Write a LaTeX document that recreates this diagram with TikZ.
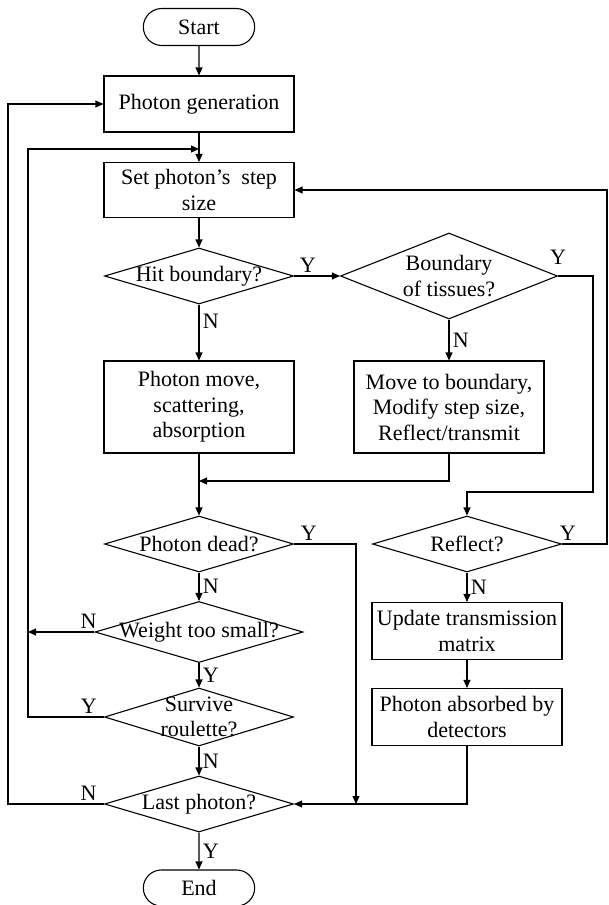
\documentclass[tikz,border=0pt]{standalone}
\usepackage{fontspec}
\setmainfont{Liberation Serif}
\usetikzlibrary{positioning, arrows.meta, shapes.geometric, shapes.misc}

\begin{document}
\begin{tikzpicture}[
		x=1pt, y=-1pt,
		>={Triangle[length=8pt, width=7pt]},
		font=\fontsize{22}{25.5}\selectfont,
		line width=1.1pt,
		box/.style={draw, rectangle, minimum width=190pt, align=center, inner sep=1pt},
		dec/.style={draw, diamond, minimum width=189pt, minimum height=56pt, inner sep=0pt},
		term/.style={draw, rounded rectangle, minimum width=118pt, minimum height=37pt}
	]

	\useasboundingbox (0,0) rectangle (609,905);

	\node[term] (start) at (199,27) {Start};
	\node[box, minimum height=56pt] (gen) at (199,104) {Photon generation};
	\node[box, minimum height=55pt] (set) at (199,190) {Set photon’s \ step\\size};
	\node[dec, label=center:{Hit boundary?}] (hit) at (199,276) {};
	\node[dec, minimum width=217pt, minimum height=86pt, label={[align=center]center:Boundary\\of tissues?}] (bnd) at (449,276) {};
	\node[box, minimum height=92pt] (move) at (199,407) {Photon move,\\scattering,\\absorption};
	\node[box, minimum height=92pt] (mvb) at (449,407) {Move to boundary,\\Modify step size,\\Reflect/transmit};
	\node[dec, label=center:{Photon dead?}] (dead) at (199,544) {};
	\node[dec, label=center:{Reflect?}] (refl) at (467,544) {};
	\node[dec, minimum width=208pt, minimum height=61pt, label=center:{Weight too small?}] (wt) at (199,632) {};
	\node[box, minimum height=57pt] (upd) at (467,631) {Update transmission\\matrix};
	\node[dec, minimum height=58pt, label={[align=center]center:Survive\\roulette?}] (surv) at (199,717) {};
	\node[box, minimum height=57pt] (abs) at (467,717) {Photon absorbed by\\detectors};
	\node[dec, label=center:{Last photon?}] (last) at (199,804) {};
	\node[term, minimum height=36pt] (end) at (199,888) {End};

	% bends and loose ends
	\coordinate (m1) at (199,481);
	\coordinate (m2) at (199,149);
	\coordinate (r1) at (593,492);
	\coordinate (r2) at (607,190);
	\coordinate (d1) at (356,804);
	\coordinate (w1) at (28,632);
	\coordinate (l1) at (28,149);
	\coordinate (l2) at (8,104);

	\draw [->] (start) -- (gen);
	\draw [->] (gen) -- (set);
	\draw [->] (set) -- (hit);
	\draw [->] (hit) -- node [above, pos=0.3] {Y} (bnd);
	\draw [->] (hit) -- node [right, pos=0.3] {N} (move);
	\draw [->] (bnd) -- node [right] {N} (mvb);
	\draw [->] (bnd.east) -| node [above=8pt, pos=0] {Y} (r1) -| (refl.north);
	\draw [->] (mvb) |- (m1);
	\draw [->] (move) -- (dead);
	\draw [->] (dead.east) -| node [above, pos=0.12] {Y} (d1);
	\draw [->] (dead) -- node [right] {N} (wt);
	\draw [->] (wt.west) -- node [above, pos=0.09] {N} (w1);
	\draw [->] (wt) -- node [right] {Y} (surv);
	\draw [->] (surv.west) -| node [above, pos=0.1] {Y} (l1) -- (m2);
	\draw [->] (surv) -- node [right] {N} (last);
	\draw [->] (last.west) -| node [above, pos=0.08] {N} (l2) -- (gen.west);
	\draw [->] (last) -- node [right] {Y} (end);
	\draw [->] (refl) -- node [right] {N} (upd);
	\draw [->] (upd) -- (abs);
	\draw [->] (abs) |- (last.east);
	\draw [->] (refl.east) -| node [above, pos=0.065] {Y} (r2) -- (set.east);

\end{tikzpicture}
\end{document}
